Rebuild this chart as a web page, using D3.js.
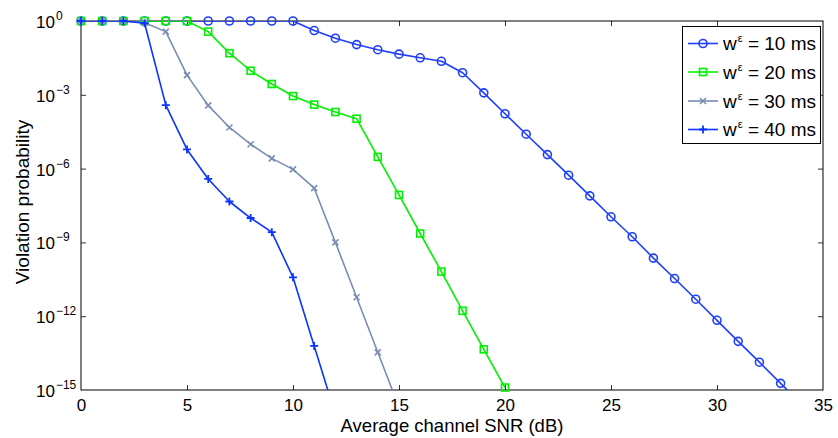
<!DOCTYPE html>
<html><head><meta charset="utf-8">
<script src="https://cdn.jsdelivr.net/npm/d3@7"></script>
<style>
body{margin:0;background:#fff}
svg{display:block}
text{font-family:"Liberation Sans",Arial,Helvetica,sans-serif;fill:#000;white-space:pre}
</style>
</head><body>
<svg id="chart" width="838" height="438"></svg>
<script>
// ---- data ----
const snr = [0,1,2,3,4,5,6,7,8,9,10,11,12,13,14,15,16,17,18,19,20,21,22,23,24,25,26,27,28,29,30,31,32,33,34,35];
const xTicks = [0,5,10,15,20,25,30,35];
const yTickExponents = [0,-3,-6,-9,-12,-15];
const seriesLabels = ["10 ms","20 ms","30 ms","40 ms"];
// violation probability per SNR (index = position in snr)
const w10 = [1,1,1,1,1,1,1,1,1,1,1,4.1e-1,2.0e-1,1.1e-1,6.8e-2,4.5e-2,3.2e-2,2.3e-2,7.9e-3,1.2e-3,1.7e-4,2.5e-5,3.7e-6,5.4e-7,7.8e-8,1.1e-8,1.7e-9,2.3e-10,3.4e-11,4.9e-12,6.8e-13,9.5e-14,1.35e-14,1.86e-15,2.6e-16];
const w20 = [1,1,1,1,1,1,3.7e-1,4.9e-2,9.5e-3,2.75e-3,8.9e-4,4.0e-4,2.0e-4,1.07e-4,3.0e-6,8.5e-8,2.3e-9,6.5e-11,1.66e-12,4.5e-14,1.26e-15];
const w30 = [1,1,1,0.85,3.7e-1,6.3e-3,3.7e-4,4.7e-5,9.8e-6,2.6e-6,9.3e-7,1.6e-7,1.0e-9,5.9e-12,3.4e-14,2.0e-16];
const w40 = [1,1,1,0.81,3.8e-4,6.0e-6,3.8e-7,4.6e-8,9.8e-9,2.6e-9,3.8e-11,6.2e-14,1.0e-16];

const seriesValues = [w10, w20, w30, w40];
const seriesColors = ["#1e3ffc", "#00f000", "#7a8db5", "#0a34ff"];
const seriesMarkers = ["circle", "square", "x", "plus"];

// ---- layout ----
const svg = d3.select("#chart");
const L = 81, R = 823, T = 21, B = 390;
const x = d3.scaleLinear().domain([0,35]).range([L,R]);
const y = d3.scaleLog().domain([1e-15,1]).range([B,T]);

svg.append("rect").attr("width",838).attr("height",438).attr("fill","#fff");

svg.append("defs").append("clipPath").attr("id","plotclip")
  .append("rect").attr("x",L).attr("y",T).attr("width",R-L).attr("height",B-T);

// axes (inside ticks)
const tickColor = "#333";
const gx = svg.append("g").attr("transform",`translate(0,${B})`)
  .call(d3.axisBottom(x).tickValues(xTicks).tickSizeInner(-5).tickSizeOuter(0).tickPadding(9).tickFormat(d3.format("d")));
const gxt = svg.append("g").attr("transform",`translate(0,${T})`)
  .call(d3.axisTop(x).tickValues(xTicks).tickSizeInner(-5).tickSizeOuter(0).tickFormat(""));
const yVals = yTickExponents.map(e => Math.pow(10,e));
const gy = svg.append("g").attr("transform",`translate(${L},0)`)
  .call(d3.axisLeft(y).tickValues(yVals).tickSizeInner(-5).tickSizeOuter(0).tickFormat(""));
const gyr = svg.append("g").attr("transform",`translate(${R},0)`)
  .call(d3.axisRight(y).tickValues(yVals).tickSizeInner(-5).tickSizeOuter(0).tickFormat(""));
[gx,gxt,gy,gyr].forEach(g => {
  g.select(".domain").remove();
  g.selectAll(".tick line").attr("stroke",tickColor).attr("stroke-width",1);
});
gx.selectAll(".tick text").attr("font-size",17).attr("font-family","Liberation Sans, Arial, sans-serif").attr("fill","#000");
// hide ticks at corners
[gx,gxt].forEach(g => g.selectAll(".tick line").filter(d => d===0||d===35).remove());
[gy,gyr].forEach(g => g.selectAll(".tick line").filter(d => d===1||d===1e-15).remove());

// y tick labels 10^e
const yl = svg.append("g");
yTickExponents.forEach(e => {
  const t = yl.append("text").attr("x",36).attr("y",y(Math.pow(10,e))+7).attr("font-size",17);
  t.append("tspan").text("10");
  t.append("tspan").attr("dx",1).attr("dy",-8).attr("font-size",12).text(e===0 ? "0" : "\u2212"+Math.abs(e));
});

// frame
svg.append("rect").attr("x",L).attr("y",T).attr("width",R-L).attr("height",B-T)
  .attr("fill","none").attr("stroke","#000").attr("stroke-width",1);

// axis titles
svg.append("text").attr("x",(L+R)/2).attr("y",432).attr("text-anchor","middle").attr("font-size",18.5)
  .text("Average channel SNR (dB)");
svg.append("text").attr("transform",`translate(29,202) rotate(-90)`).attr("text-anchor","middle").attr("font-size",19)
  .text("Violation probability");

// markers
function drawMarker(g, type, cx, cy, color){
  if(type==="circle"){
    g.append("circle").attr("cx",cx).attr("cy",cy).attr("r",4).attr("fill","none").attr("stroke",color).attr("stroke-width",1.6);
  } else if(type==="square"){
    g.append("rect").attr("x",cx-3.5).attr("y",cy-3.5).attr("width",7).attr("height",7).attr("fill","none").attr("stroke",color).attr("stroke-width",1.6);
  } else if(type==="x"){
    g.append("path").attr("d",`M${cx-3},${cy-3}L${cx+3},${cy+3}M${cx-3},${cy+3}L${cx+3},${cy-3}`).attr("stroke",color).attr("stroke-width",1.6).attr("fill","none");
  } else {
    g.append("path").attr("d",`M${cx-4},${cy}L${cx+4},${cy}M${cx},${cy-4}L${cx},${cy+4}`).attr("stroke",color).attr("stroke-width",1.8).attr("fill","none");
  }
}

const line = d3.line().x(d => x(d[0])).y(d => y(d[1]));
seriesValues.forEach((vals,i) => {
  const pts = vals.map((v,j) => [snr[j], v]);
  svg.append("path").datum(pts).attr("d",line).attr("clip-path","url(#plotclip)")
    .attr("fill","none").attr("stroke",seriesColors[i]).attr("stroke-width",1.6).attr("stroke-linejoin","round");
  const mg = svg.append("g");
  pts.filter(p => p[1] >= 1e-15*0.95).forEach(p => drawMarker(mg, seriesMarkers[i], x(p[0]), y(p[1]), seriesColors[i]));
});

// legend
const lg = svg.append("g");
lg.append("rect").attr("x",682.5).attr("y",26.5).attr("width",138).attr("height",117)
  .attr("fill","#fff").attr("stroke","#000").attr("stroke-width",1);
const rows = [43.5, 72, 101, 129.5];
seriesLabels.forEach((lab,i) => {
  const ry = rows[i];
  lg.append("line").attr("x1",688).attr("x2",718).attr("y1",ry).attr("y2",ry)
    .attr("stroke",seriesColors[i]).attr("stroke-width",1.6);
  drawMarker(lg, seriesMarkers[i], 703, ry, seriesColors[i]);
  const t = lg.append("text").attr("x",723).attr("y",ry+6.5).attr("font-size",19);
  t.append("tspan").text("w");
  t.append("tspan").attr("dx",1).attr("dy",-8).attr("font-size",11).text("\u03B5");
  t.append("tspan").attr("dy",8).text(" = " + lab);
});
</script>
</body></html>
